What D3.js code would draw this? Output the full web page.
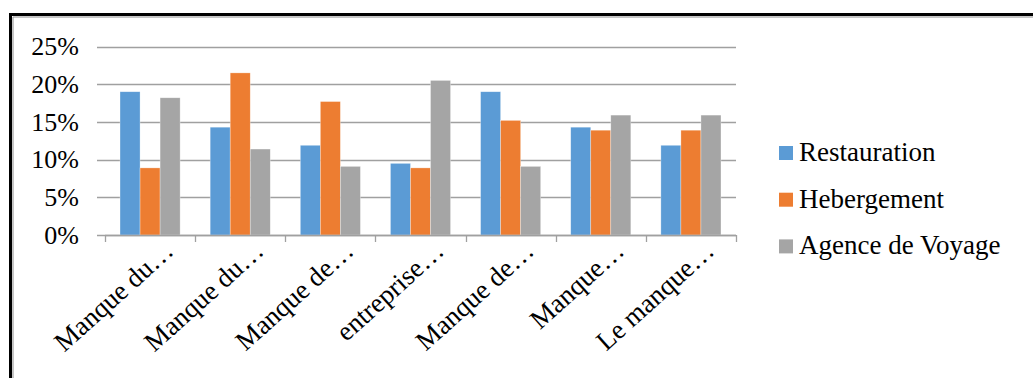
<!DOCTYPE html>
<html>
<head>
<meta charset="utf-8">
<script src="https://cdn.jsdelivr.net/npm/d3@7/dist/d3.min.js"></script>
</head>
<body style="margin:0;background:#fff">
<svg id="chart" width="1033" height="378" style="display:block"></svg>
<script>
// Category labels as shown under the axis (truncated by the chart)
const categories = ["Manque du…", "Manque du…", "Manque de…", "entreprise…", "Manque de…", "Manque…", "Le manque…"];
const seriesNames = ["Restauration", "Hebergement", "Agence de Voyage"];
const seriesColors = ["#5b9bd5", "#ed7d31", "#a5a5a5"];

// Percent values per series, one per category
const restauration = [19.0, 14.3, 11.9, 9.5, 19.0, 14.3, 11.9];
const hebergement  = [8.9, 21.5, 17.7, 8.9, 15.2, 13.9, 13.9];
const agence       = [18.2, 11.4, 9.1, 20.5, 9.1, 15.9, 15.9];

const yTicks = [0, 5, 10, 15, 20, 25];
const yTickLabels = ["0%", "5%", "10%", "15%", "20%", "25%"];

const seriesValues = [restauration, hebergement, agence];
const serif = "Liberation Serif";

const svg = d3.select("#chart");

// Double frame around the chart (thick outer, thin inner)
svg.append("rect").attr("x", 9).attr("y", 13).attr("width", 1100).attr("height", 3).attr("fill", "#000");
svg.append("rect").attr("x", 9).attr("y", 13).attr("width", 3).attr("height", 400).attr("fill", "#000");
svg.append("line").attr("x1", 13).attr("x2", 1100).attr("y1", 17).attr("y2", 17)
  .attr("stroke", "#8c8c8c").attr("stroke-width", 1);
svg.append("line").attr("x1", 13).attr("x2", 13).attr("y1", 17).attr("y2", 400)
  .attr("stroke", "#8c8c8c").attr("stroke-width", 1);

const plot = { left: 105, right: 736, top: 46.5, bottom: 235 };

const x0 = d3.scaleBand()
  .domain(d3.range(categories.length))
  .range([plot.left, plot.right])
  .padding(0);

const x1 = d3.scaleBand()
  .domain(d3.range(seriesNames.length))
  .range([0, x0.bandwidth()])
  .paddingInner(0)
  .paddingOuter(0.75);

const y = d3.scaleLinear().domain([0, 25]).range([plot.bottom, plot.top]);

const gridColor = "#a0a0a0";

// Horizontal gridlines, extended slightly left as tick marks
svg.append("g").selectAll("line")
  .data(yTicks)
  .join("line")
  .attr("x1", plot.left - 8)
  .attr("x2", plot.right)
  .attr("y1", d => Math.round(y(d)) + 0.5)
  .attr("y2", d => Math.round(y(d)) + 0.5)
  .attr("stroke", gridColor)
  .attr("stroke-width", 1.3);

// Y tick labels
svg.append("g").selectAll("text")
  .data(yTicks)
  .join("text")
  .attr("x", 79)
  .attr("y", d => y(d))
  .attr("dy", "0.34em")
  .attr("text-anchor", "end")
  .attr("font-family", serif)
  .style("font-family", serif, "important")
  .attr("font-size", 26)
  .attr("fill", "#000")
  .text((d, i) => yTickLabels[i]);

// Bars
const groups = svg.append("g").selectAll("g")
  .data(categories.map((c, i) => i))
  .join("g")
  .attr("transform", i => `translate(${x0(i)},0)`);

groups.selectAll("rect")
  .data(i => seriesValues.map((vals, s) => ({ s, v: vals[i] })))
  .join("rect")
  .attr("x", d => x1(d.s))
  .attr("width", x1.bandwidth())
  .attr("y", d => y(d.v))
  .attr("height", d => y(0) - y(d.v))
  .attr("fill", d => seriesColors[d.s])
  .attr("stroke", "#ffffff")
  .attr("stroke-opacity", 0.5)
  .attr("stroke-width", 0.6);

// X axis baseline and category separators
const xAxisLine = svg.append("g");
xAxisLine.append("line")
  .attr("x1", plot.left).attr("x2", plot.right)
  .attr("y1", Math.round(y(0)) + 0.5).attr("y2", Math.round(y(0)) + 0.5)
  .attr("stroke", gridColor).attr("stroke-width", 1.3);
const boundaries = d3.range(categories.length).map(i => x0(i)).concat([plot.right]);
xAxisLine.selectAll("line.tick")
  .data(boundaries)
  .join("line")
  .attr("class", "tick")
  .attr("x1", d => Math.round(d) + 0.5).attr("x2", d => Math.round(d) + 0.5)
  .attr("y1", y(0)).attr("y2", y(0) + 7)
  .attr("stroke", gridColor).attr("stroke-width", 1.3);

// Rotated category labels
svg.append("g").selectAll("text")
  .data(categories)
  .join("text")
  .attr("text-anchor", "end")
  .attr("font-family", serif)
  .style("font-family", serif, "important")
  .attr("font-size", 27)
  .attr("fill", "#000")
  .attr("transform", (d, i) => `translate(${x0(i) + x0.bandwidth() / 2 + 25},253) rotate(-42)`)
  .text(d => d);

// Legend
const legend = svg.append("g").attr("transform", "translate(779,0)");
const legendRows = legend.selectAll("g")
  .data(seriesNames)
  .join("g")
  .attr("transform", (d, i) => `translate(0,${161 + i * 46.7})`);
legendRows.append("rect")
  .attr("x", 0).attr("y", -15)
  .attr("width", 14).attr("height", 14)
  .attr("fill", (d, i) => seriesColors[i]);
legendRows.append("text")
  .attr("x", 20).attr("y", 0)
  .attr("font-family", serif)
  .style("font-family", serif, "important")
  .attr("font-size", 27)
  .attr("fill", "#000")
  .text(d => d);
</script>
</body>
</html>
